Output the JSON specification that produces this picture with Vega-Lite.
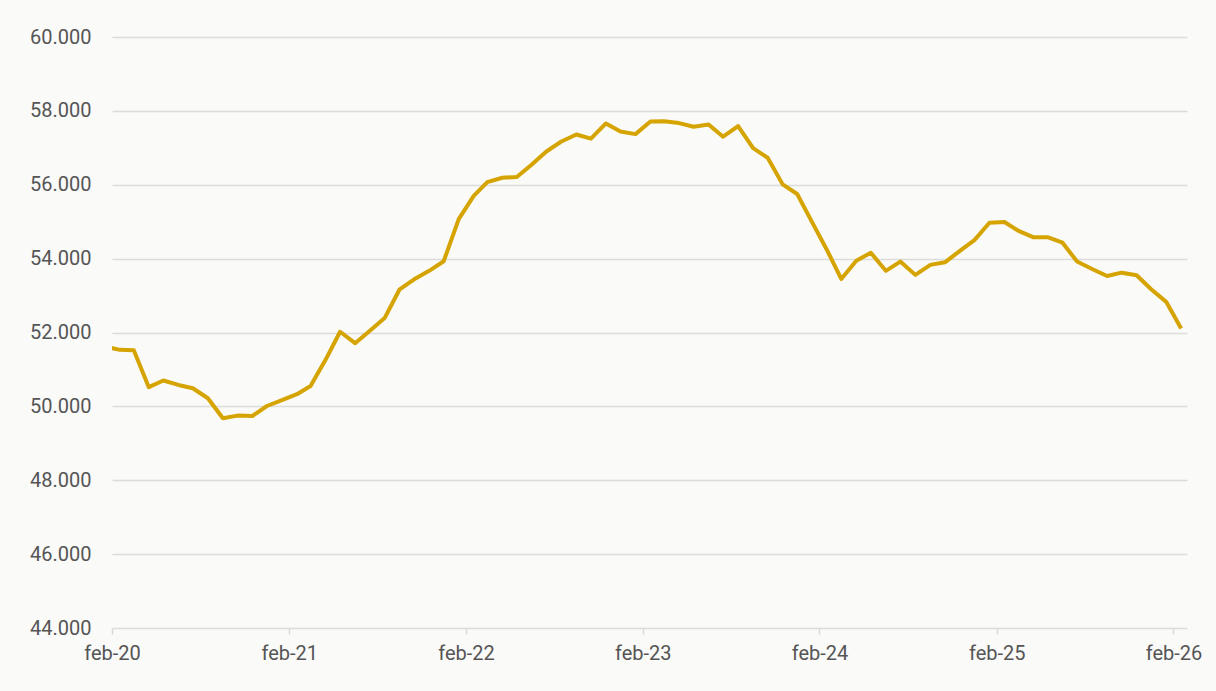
{
  "$schema": "https://vega.github.io/schema/vega-lite/v6.json",
  "autosize": {"type": "none"},
  "padding": {"left": 112, "top": 37, "right": 29, "bottom": 63},
  "width": 1075,
  "height": 591,
  "background": "#fafaf9",
  "data": {
    "values": [
      {"fecha": "2020-01-17", "valor": 51620},
      {"fecha": "2020-02-17", "valor": 51530},
      {"fecha": "2020-03-17", "valor": 51520},
      {"fecha": "2020-04-17", "valor": 50520},
      {"fecha": "2020-05-17", "valor": 50700},
      {"fecha": "2020-06-17", "valor": 50580},
      {"fecha": "2020-07-17", "valor": 50490},
      {"fecha": "2020-08-17", "valor": 50220},
      {"fecha": "2020-09-17", "valor": 49680},
      {"fecha": "2020-10-17", "valor": 49750},
      {"fecha": "2020-11-17", "valor": 49740},
      {"fecha": "2020-12-17", "valor": 50010},
      {"fecha": "2021-01-17", "valor": 50170},
      {"fecha": "2021-02-17", "valor": 50330},
      {"fecha": "2021-03-17", "valor": 50550},
      {"fecha": "2021-04-17", "valor": 51260},
      {"fecha": "2021-05-17", "valor": 52020},
      {"fecha": "2021-06-17", "valor": 51710},
      {"fecha": "2021-07-17", "valor": 52040},
      {"fecha": "2021-08-17", "valor": 52390},
      {"fecha": "2021-09-17", "valor": 53170},
      {"fecha": "2021-10-17", "valor": 53440},
      {"fecha": "2021-11-17", "valor": 53670},
      {"fecha": "2021-12-17", "valor": 53930},
      {"fecha": "2022-01-17", "valor": 55070},
      {"fecha": "2022-02-17", "valor": 55700},
      {"fecha": "2022-03-17", "valor": 56070},
      {"fecha": "2022-04-17", "valor": 56190},
      {"fecha": "2022-05-17", "valor": 56210},
      {"fecha": "2022-06-17", "valor": 56550},
      {"fecha": "2022-07-17", "valor": 56900},
      {"fecha": "2022-08-17", "valor": 57170},
      {"fecha": "2022-09-17", "valor": 57360},
      {"fecha": "2022-10-17", "valor": 57250},
      {"fecha": "2022-11-17", "valor": 57660},
      {"fecha": "2022-12-17", "valor": 57440},
      {"fecha": "2023-01-17", "valor": 57370},
      {"fecha": "2023-02-17", "valor": 57710},
      {"fecha": "2023-03-17", "valor": 57720},
      {"fecha": "2023-04-17", "valor": 57670},
      {"fecha": "2023-05-17", "valor": 57570},
      {"fecha": "2023-06-17", "valor": 57630},
      {"fecha": "2023-07-17", "valor": 57300},
      {"fecha": "2023-08-17", "valor": 57590},
      {"fecha": "2023-09-17", "valor": 56990},
      {"fecha": "2023-10-17", "valor": 56730},
      {"fecha": "2023-11-17", "valor": 56010},
      {"fecha": "2023-12-17", "valor": 55750},
      {"fecha": "2024-01-17", "valor": 54980},
      {"fecha": "2024-02-17", "valor": 54220},
      {"fecha": "2024-03-17", "valor": 53450},
      {"fecha": "2024-04-17", "valor": 53940},
      {"fecha": "2024-05-17", "valor": 54160},
      {"fecha": "2024-06-17", "valor": 53670},
      {"fecha": "2024-07-17", "valor": 53920},
      {"fecha": "2024-08-17", "valor": 53560},
      {"fecha": "2024-09-17", "valor": 53830},
      {"fecha": "2024-10-17", "valor": 53900},
      {"fecha": "2024-11-17", "valor": 54210},
      {"fecha": "2024-12-17", "valor": 54500},
      {"fecha": "2025-01-17", "valor": 54970},
      {"fecha": "2025-02-17", "valor": 54990},
      {"fecha": "2025-03-17", "valor": 54760},
      {"fecha": "2025-04-17", "valor": 54580},
      {"fecha": "2025-05-17", "valor": 54580},
      {"fecha": "2025-06-17", "valor": 54430},
      {"fecha": "2025-07-17", "valor": 53920},
      {"fecha": "2025-08-17", "valor": 53720},
      {"fecha": "2025-09-17", "valor": 53530},
      {"fecha": "2025-10-17", "valor": 53620},
      {"fecha": "2025-11-17", "valor": 53550},
      {"fecha": "2025-12-17", "valor": 53170},
      {"fecha": "2026-01-17", "valor": 52830},
      {"fecha": "2026-02-17", "valor": 52110}
    ]
  },
  "mark": {"type": "line", "color": "#d6a400", "strokeWidth": 4, "clip": true, "strokeJoin": "round"},
  "encoding": {
    "x": {
      "field": "fecha",
      "type": "temporal",
      "title": null,
      "scale": {
        "type": "utc",
        "domain": [
          {"year": 2020, "month": 2, "date": 1, "utc": true},
          {"year": 2026, "month": 3, "date": 1, "utc": true}
        ]
      },
      "axis": {
        "values": [
          {"year": 2020, "month": 2, "date": 1, "utc": true},
          {"year": 2021, "month": 2, "date": 1, "utc": true},
          {"year": 2022, "month": 2, "date": 1, "utc": true},
          {"year": 2023, "month": 2, "date": 1, "utc": true},
          {"year": 2024, "month": 2, "date": 1, "utc": true},
          {"year": 2025, "month": 2, "date": 1, "utc": true},
          {"year": 2026, "month": 2, "date": 1, "utc": true}
        ],
        "labelExpr": "'feb-' + utcFormat(datum.value, '%y')",
        "grid": false,
        "domain": false,
        "ticks": true,
        "tickSize": 6,
        "tickColor": "#d9d9d9",
        "tickWidth": 1.5,
        "labelPadding": 9,
        "labelFlush": false
      }
    },
    "y": {
      "field": "valor",
      "type": "quantitative",
      "title": null,
      "scale": {"domain": [44000, 60000], "nice": false, "zero": false},
      "axis": {
        "values": [44000, 46000, 48000, 50000, 52000, 54000, 56000, 58000, 60000],
        "format": ",.0f",
        "domain": false,
        "ticks": false,
        "tickSize": 0,
        "labelPadding": 21,
        "grid": true,
        "gridColor": "#dcdcdc",
        "gridWidth": 1.5
      }
    }
  },
  "config": {
    "view": {"stroke": null},
    "font": "Roboto",
    "axis": {
      "labelFont": "Roboto",
      "labelFontSize": 20,
      "labelColor": "#555555"
    },
    "locale": {
      "number": {"decimal": ",", "thousands": ".", "grouping": [3], "currency": ["", " €"]}
    }
  }
}
